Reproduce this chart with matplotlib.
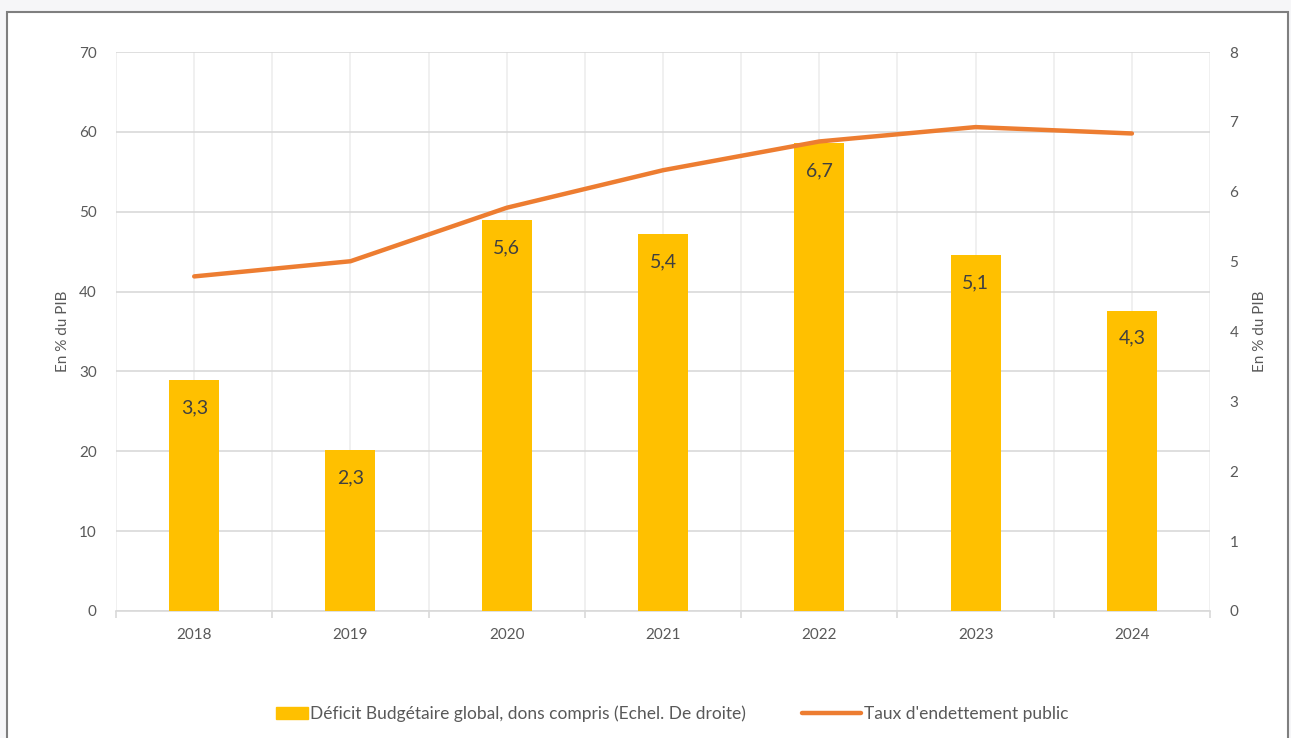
import matplotlib.pyplot as plt
from matplotlib.patches import Rectangle
from matplotlib.lines import Line2D
from matplotlib.legend_handler import HandlerPatch
from matplotlib.ticker import MultipleLocator

plt.rcParams['font.family'] = ['Lato', 'DejaVu Sans']

years = ['2018', '2019', '2020', '2021', '2022', '2023', '2024']
deficit = [3.3, 2.3, 5.6, 5.4, 6.7, 5.1, 4.3]
endettement = [41.9, 43.8, 50.5, 55.2, 58.8, 60.6, 59.8]

bar_color = '#FFC000'
line_color = '#ED7D31'
text_color = '#595959'

fig = plt.figure(figsize=(12.91, 7.38), dpi=100, facecolor='#f6f6f8')
fig.patches.append(Rectangle((0.0054, -0.02), 0.9923, 1.0037, transform=fig.transFigure,
                             facecolor='white', edgecolor='#7f7f7f', lw=1.5, zorder=-1))

ax = fig.add_axes([0.0899, 0.1721, 0.8474, 0.7574])
ax.patch.set_visible(False)
x = list(range(len(years)))

# left axis: grid + ticks for the debt ratio
ax.set_xlim(-0.5, len(years) - 0.5)
ax.set_ylim(0, 70)
ax.yaxis.set_major_locator(MultipleLocator(10))
ax.set_xticks(x)
ax.set_xticklabels(years)
ax.set_xticks([i - 0.5 for i in range(len(years) + 1)], minor=True)
ax.grid(axis='y', color='#d9d9d9', lw=1.2)
ax.grid(axis='x', which='both', color='#eeeeee', lw=1.2)
ax.set_axisbelow(True)
for s in ['top', 'right', 'left']:
    ax.spines[s].set_visible(False)
ax.spines['bottom'].set_color('#d9d9d9')
ax.spines['bottom'].set_linewidth(1.2)
ax.tick_params(axis='y', length=0, pad=14, labelsize=11, labelcolor=text_color)
ax.tick_params(axis='x', which='major', length=0, pad=12.5, labelsize=11, labelcolor=text_color)
ax.tick_params(axis='x', which='minor', length=5, color='#d9d9d9', width=1.2)
ax.set_ylabel('En % du PIB', fontsize=11, color=text_color, labelpad=6.5)

# right axis: bars for the deficit
ax2 = ax.twinx()
ax2.patch.set_visible(False)
ax2.set_ylim(0, 8)
ax2.yaxis.set_major_locator(MultipleLocator(1))
ax2.bar(x, deficit, width=0.32, color=bar_color, zorder=2)
for i, v in zip(x, deficit):
    ax2.annotate(f'{v:.1f}'.replace('.', ','), (i, v), xytext=(0, -20), textcoords='offset points',
                 ha='center', va='center', fontsize=14, color='#404040')
for s in ax2.spines.values():
    s.set_visible(False)
ax2.tick_params(axis='y', length=0, pad=14, labelsize=11, labelcolor=text_color)
ax2.set_ylabel('En % du PIB', fontsize=11, color=text_color)
ax2.yaxis.set_label_coords(1.039, 0.5)
ax2.yaxis.label.set_rotation(90)

# third layer: line on the left scale, drawn over the bars
ax3 = ax.twinx()
ax3.set_ylim(0, 70)
ax3.axis('off')
ax3.plot(x, endettement, color=line_color, lw=3.2, solid_capstyle='round')


def small_patch(legend, orig_handle, xdescent, ydescent, width, height, fontsize):
    return Rectangle((-xdescent + width - 23, -ydescent), 23, height)


handles = [Rectangle((0, 0), 1, 1, color=bar_color),
           Line2D([0], [0], color=line_color, lw=3.2, solid_capstyle='round')]
labels = ['Déficit Budgétaire global, dons compris (Echel. De droite)', "Taux d'endettement public"]
fig.legend(handles, labels, loc='center', bbox_to_anchor=(0.51, 0.033), ncol=2, frameon=False,
           fontsize=12.5, labelcolor=text_color, handlelength=3.4, handletextpad=0.15,
           columnspacing=3.2, handler_map={Rectangle: HandlerPatch(patch_func=small_patch)})

fig.savefig('out.png', dpi=100, facecolor=fig.get_facecolor())
